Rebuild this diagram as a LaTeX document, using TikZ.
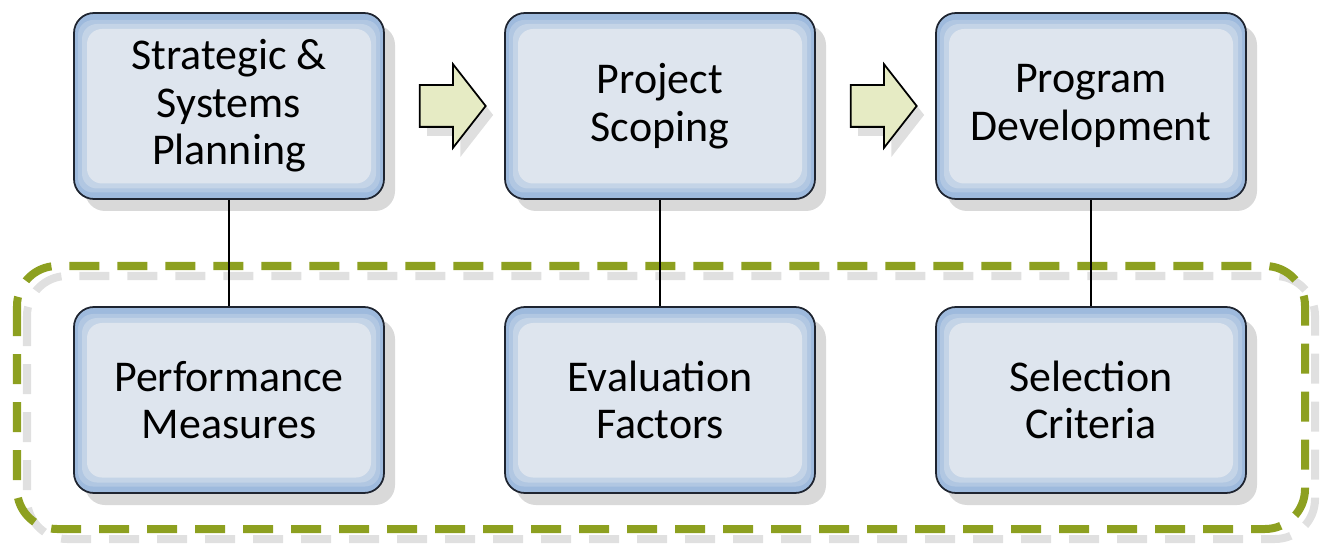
\documentclass[tikz,border=0pt]{standalone}
\usepackage{fontspec}
\setmainfont{Carlito}
\usepackage{tikz}
\usetikzlibrary{shapes.arrows, shadows, calc}
\definecolor{boxedge}{RGB}{158,186,221}
\definecolor{boxface}{RGB}{222,229,238}
\definecolor{boxline}{RGB}{30,36,48}
\definecolor{arrowfill}{RGB}{230,235,196}
\definecolor{dashgreen}{RGB}{141,160,32}
\tikzstyle{phase} = [rectangle, rounded corners=0.4cm, minimum width=6.2cm, minimum height=3.72cm,
    text centered, align=center, draw=boxline, line width=1pt, fill=boxedge,
    font=\fontsize{25}{27}\selectfont,
    drop shadow={shadow xshift=0.22cm, shadow yshift=-0.24cm, opacity=0.3},
    path picture={
        \foreach \d/\m in {0.08/70, 0.16/40, 0.26/0}
            \fill[boxedge!\m!boxface, rounded corners=0.3cm]
                ($(path picture bounding box.south west)+(\d,\d+0.05)$) rectangle
                ($(path picture bounding box.north east)+(-\d,-\d-0.06)$);
    }]
\tikzstyle{bigarrow} = [single arrow, draw=black, line width=1pt, fill=arrowfill,
    minimum height=1.32cm, inner xsep=0pt, inner ysep=0.4cm,
    single arrow head extend=0.42cm, single arrow tip angle=104,
    drop shadow={shadow xshift=0.15cm, shadow yshift=-0.18cm, opacity=0.25}]
\tikzstyle{link} = [line width=1.2pt, black]
\tikzstyle{group} = [line width=0.16cm, rounded corners=0.8cm,
    dash pattern=on 0.6cm off 0.36cm, dashgreen]

\begin{document}
\begin{tikzpicture}[node distance=8.62cm]
    \useasboundingbox (0,0) rectangle (26.74,-10.92);

    % dashed frame round the lower row, with its shadow
    \draw [group, black!12] (0.54,-5.52) rectangle (26.3,-10.78);
    \draw [group] (0.34,-5.32) rectangle (26.1,-10.58);

    \node (strat) [phase] at (4.58,-2.12) {Strategic \&\\Systems\\Planning};
    \node (scope) [phase, right of=strat] {Project\\Scoping};
    \node (prog) [phase, right of=scope] {Program\\Development};

    \node (perf) [phase, below of=strat, yshift=2.74cm] {Performance\\Measures};
    \node (eval) [phase, below of=scope, yshift=2.74cm] {Evaluation\\Factors};
    \node (sel) [phase, below of=prog, yshift=2.74cm] {Selection\\Criteria};

    \path (strat.east) -- (scope.west) node [bigarrow, midway] (stepa) {};
    \path (scope.east) -- (prog.west) node [bigarrow, midway] (stepb) {};

    \draw [link] (strat) -- (perf);
    \draw [link] (scope) -- (eval);
    \draw [link] (prog) -- (sel);
\end{tikzpicture}
\end{document}
